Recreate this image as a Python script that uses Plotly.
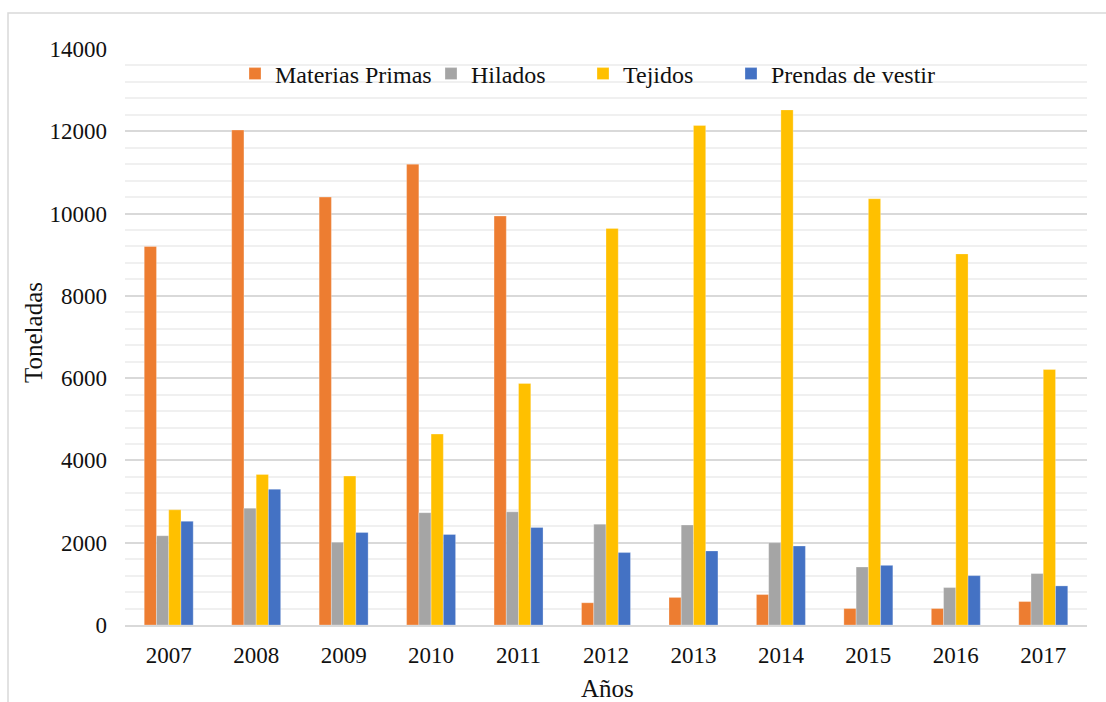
import plotly.graph_objects as go

years = ["2007", "2008", "2009", "2010", "2011", "2012", "2013", "2014", "2015", "2016", "2017"]
materias_primas = [9200, 12030, 10400, 11200, 9940, 540, 670, 740, 400, 400, 570]
hilados = [2170, 2840, 2010, 2730, 2750, 2450, 2430, 2000, 1410, 910, 1250]
tejidos = [2800, 3660, 3620, 4640, 5870, 9640, 12140, 12520, 10360, 9020, 6210]
prendas = [2520, 3300, 2250, 2200, 2370, 1760, 1800, 1920, 1450, 1200, 950]

series = [
    ("Materias Primas", materias_primas, "#ED7D31"),
    ("Hilados", hilados, "#A5A5A5"),
    ("Tejidos", tejidos, "#FFC000"),
    ("Prendas de vestir", prendas, "#4472C4"),
]

FONT = "Liberation Serif"
TXT = "#111111"

# plot-area geometry in pixels
L, R, T, B = 125, 19, 49, 77
W, H = 1106 - L - R, 702 - T - B


def px_x(p):
    return (p - L) / W


def px_y(p):
    return (702 - B - p) / H


# left edge (px) of each legend entry, one legend per series
legend_left = [235, 431, 583, 731]

fig = go.Figure()
for i, (name, vals, color) in enumerate(series):
    lg = "legend" if i == 0 else f"legend{i + 1}"
    fig.add_trace(go.Bar(
        x=years, y=vals, name=name, legend=lg,
        marker=dict(color=color, line=dict(color="rgba(255,255,255,0.35)", width=0.8)),
    ))

legend_common = dict(
    orientation="h", y=px_y(74), xanchor="left", yanchor="middle",
    font=dict(family=FONT, size=24, color=TXT),
    bgcolor="rgba(0,0,0,0)", itemclick=False, borderwidth=0,
)
layout_legends = {}
for i, lx in enumerate(legend_left):
    key = "legend" if i == 0 else f"legend{i + 1}"
    layout_legends[key] = dict(legend_common, x=px_x(lx))

fig.update_layout(
    width=1106, height=702,
    margin=dict(l=L, r=R, t=T, b=B),
    paper_bgcolor="white", plot_bgcolor="white",
    barmode="group", bargap=0.44, bargroupgap=0,
    font=dict(family=FONT, size=23, color=TXT),
    showlegend=True,
    **layout_legends,
)

fig.update_yaxes(
    range=[0, 14000], dtick=2000, tick0=0, tickformat="d",
    showgrid=True, gridcolor="#d9d9d9", gridwidth=1.5,
    minor=dict(dtick=400, showgrid=True, gridcolor="#f0f0f0", gridwidth=1.5),
    zeroline=False, showline=False, ticks="",
    ticklabelstandoff=17,
    tickfont=dict(family=FONT, size=23, color=TXT),
)
fig.update_xaxes(
    showgrid=False, ticks="", showline=True, linecolor="#d9d9d9", linewidth=1.5,
    ticklabelstandoff=9,
    tickfont=dict(family=FONT, size=23, color=TXT),
)

# Axis titles
fig.add_annotation(text="Toneladas", xref="paper", yref="paper",
                   x=px_x(33), y=px_y(333), xanchor="center", yanchor="middle",
                   textangle=-90, showarrow=False,
                   font=dict(family=FONT, size=25, color=TXT))
fig.add_annotation(text="Años", xref="paper", yref="paper",
                   x=px_x(607), y=px_y(688), xanchor="center", yanchor="middle",
                   showarrow=False, font=dict(family=FONT, size=25, color=TXT))

# Chart-area frame
fig.add_shape(type="rect", xref="paper", yref="paper",
              x0=px_x(8), x1=px_x(1115), y0=px_y(712), y1=px_y(13),
              line=dict(color="#d9d9d9", width=1.5), fillcolor="rgba(0,0,0,0)",
              layer="below")

fig.write_html("out.html")
